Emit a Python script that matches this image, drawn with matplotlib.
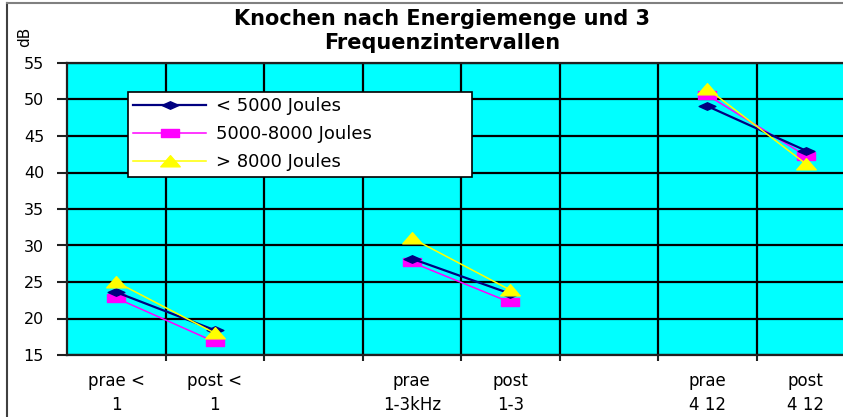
import numpy as np
import matplotlib.pyplot as plt
from matplotlib.lines import Line2D
from matplotlib.path import Path

plt.rcParams['font.family'] = ['DejaVu Sans']

# category labels (two rows each), empty slots separate the frequency groups
cats = ['prae <\n1', 'post <\n1', '', 'prae\n1-3kHz', 'post\n1-3', '', 'prae\n4 12', 'post\n4 12']

# hearing threshold in dB per energy group
low = [23.6, 18.4, np.nan, 28.2, 23.4, np.nan, 49.1, 43.0]
mid = [22.8, 16.8, np.nan, 27.7, 22.2, np.nan, 50.6, 42.3]
high = [25.0, 18.0, np.nan, 31.0, 23.9, np.nan, 51.5, 41.2]

names = ['< 5000 Joules', '5000-8000 Joules', '> 8000 Joules']

# wide, flat marker shapes
diamond = Path([(-1, 0), (0, 0.45), (1, 0), (0, -0.45), (-1, 0)],
               [Path.MOVETO, Path.LINETO, Path.LINETO, Path.LINETO, Path.CLOSEPOLY])
square = Path([(-1, -0.45), (1, -0.45), (1, 0.45), (-1, 0.45), (-1, -0.45)],
              [Path.MOVETO, Path.LINETO, Path.LINETO, Path.LINETO, Path.CLOSEPOLY])
triangle = Path([(-1, -0.55), (1, -0.55), (0, 0.6), (-1, -0.55)],
                [Path.MOVETO, Path.LINETO, Path.LINETO, Path.CLOSEPOLY])

W, H = 843, 417
fig = plt.figure(figsize=(W / 100, H / 100), dpi=100)
fig.patch.set_facecolor('white')

# plot area runs slightly past the right edge of the figure
ax = fig.add_axes([67 / W, 1 - 355 / H, 788 / W, 292 / H])
ax.set_facecolor('#00FFFF')

x = np.arange(len(cats))
ax.plot(x, low, color='#000080', lw=1.6, marker=diamond, ms=12, mec='#000080', mfc='#000080',
        label=names[0], zorder=4)
ax.plot(x, mid, color='#FF00FF', lw=1.1, marker=square, ms=12.5, mec='#FF00FF', mfc='#FF00FF',
        label=names[1], zorder=3)
ax.plot(x, high, color='#FFFF00', lw=1.1, marker=triangle, ms=14, mec='#FFFF00', mfc='#FFFF00',
        label=names[2], zorder=5)

ax.set_xlim(-0.5, len(cats) - 0.5)
ax.set_ylim(15, 55)
ax.set_yticks(np.arange(15, 56, 5))

# category labels centred, tick marks and grid on the boundaries
ax.set_xticks(x)
ax.set_xticklabels(cats, fontsize=12, linespacing=1.45)
ax.set_xticks(np.arange(0.5, len(cats) - 0.5, 1), minor=True)
ax.tick_params(axis='x', which='major', length=0, pad=12)
ax.tick_params(axis='x', which='minor', length=4, width=1.5, direction='out', color='#202020')
ax.tick_params(axis='y', length=7.5, width=1.5, pad=9, labelsize=11.5, color='#202020')

ax.grid(True, axis='y', color='black', lw=1.6, zorder=1)
ax.grid(True, axis='x', which='minor', color='black', lw=1.6, zorder=1)
ax.set_axisbelow(True)
for side in ['left', 'bottom', 'top']:
    ax.spines[side].set_color('#202020')
    ax.spines[side].set_linewidth(1.6)
ax.spines['right'].set_visible(False)

leg = ax.legend(loc='upper left', bbox_to_anchor=(128 / W, 1 - 178 / H, 344 / W, 86 / H),
                bbox_transform=fig.transFigure, mode='expand', fontsize=13,
                handlelength=4.0, handletextpad=0.6, labelspacing=0.55,
                borderpad=0.3, borderaxespad=0, fancybox=False, framealpha=1)
leg.get_frame().set_edgecolor('black')
leg.get_frame().set_linewidth(1.2)

fig.text(442 / W, 1 - 31 / H, 'Knochen nach Energiemenge und 3\nFrequenzintervallen',
         ha='center', va='center', fontsize=15, fontweight='bold', linespacing=1.2)
fig.text(25 / W, 1 - 37 / H, 'dB', rotation=90, ha='center', va='center', fontsize=11)

# outer chart frame (left and top edges visible)
fig.add_artist(Line2D([7 / W, 7 / W], [0, 1 - 3 / H], color='#404040', lw=1.5))
fig.add_artist(Line2D([7 / W, 1], [1 - 3 / H, 1 - 3 / H], color='#808080', lw=1.5))

fig.savefig('out.png', dpi=100)
